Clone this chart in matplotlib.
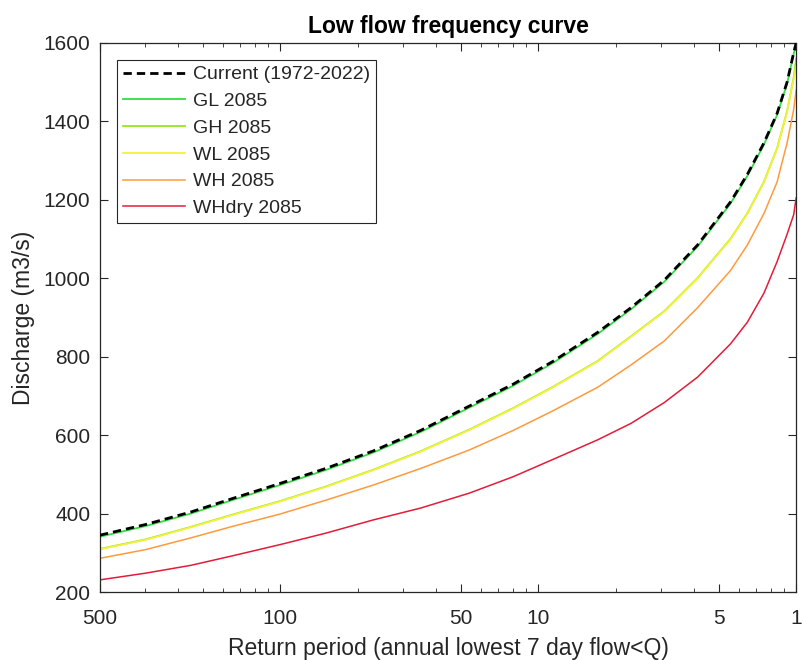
import numpy as np
import matplotlib
matplotlib.use("Agg")
import matplotlib.pyplot as plt

plt.rcParams['font.family'] = ['Liberation Sans', 'DejaVu Sans']

# non-exceedance probability (plotted on log axis)
p = [0.002, 0.003, 0.0045, 0.0065, 0.01, 0.015, 0.023, 0.035, 0.054, 0.08, 0.114,
     0.17, 0.229, 0.308, 0.415, 0.557, 0.647, 0.75, 0.843, 0.922, 0.978, 1.0]

current = [345, 372, 404, 438, 477, 515, 560, 612, 674, 730, 788,
           862, 925, 995, 1085, 1195, 1265, 1345, 1420, 1500, 1575, 1600]
gl_2085 = [341, 368, 400, 434, 473, 511, 556, 608, 670, 726, 784,
           858, 921, 991, 1081, 1191, 1261, 1341, 1416, 1496, 1572, 1598]
gh_2085 = [310, 334, 366, 397, 432, 469, 512, 559, 614, 669, 723,
           789, 852, 916, 1001, 1101, 1166, 1246, 1331, 1426, 1512, 1560]
wl_2085 = [309, 333, 365, 396, 431, 468, 511, 558, 613, 668, 722,
           788, 851, 915, 1000, 1100, 1165, 1245, 1330, 1425, 1508, 1540]
wh_2085 = [286, 308, 338, 367, 399, 434, 473, 515, 562, 612, 662,
           722, 779, 840, 925, 1020, 1085, 1165, 1245, 1345, 1430, 1480]
whdry_2085 = [231, 248, 268, 292, 321, 350, 384, 414, 452, 494, 538,
              588, 630, 683, 748, 833, 888, 962, 1042, 1112, 1162, 1205]

xtick_pos = [0.002, 0.01, 0.05, 0.1, 0.5, 1]
xtick_lab = ['500', '100', '50', '10', '5', '1']

txt = '#262626'

fig = plt.figure(figsize=(8.03, 6.60), dpi=100)
ax = fig.add_axes([0.1245, 0.103, 0.867, 0.832])

ax.plot(p, gl_2085, color='#33dd44', lw=1.3, label='GL 2085')
ax.plot(p, gh_2085, color='#99e619', lw=1.3, label='GH 2085')
ax.plot(p, wl_2085, color='#f2f23a', lw=1.3, label='WL 2085')
ax.plot(p, wh_2085, color='#ff9a3c', lw=1.1, label='WH 2085')
ax.plot(p, whdry_2085, color='#e31c3a', lw=1.1, label='WHdry 2085')
ln, = ax.plot(p, current, color='black', lw=2, dashes=(3, 1.8), label='Current (1972-2022)', zorder=5)

ax.set_xscale('log')
ax.set_xlim(0.002, 1)
ax.set_ylim(200, 1600)
ax.set_xticks(xtick_pos)
ax.set_xticklabels(xtick_lab)
ax.set_yticks(np.arange(200, 1601, 200))

ax.tick_params(which='both', direction='in', top=True, right=True, colors=txt, labelsize=15)
ax.tick_params(which='major', length=6, width=0.8)
ax.tick_params(which='minor', length=3, width=0.6)
ax.tick_params(axis='x', pad=12)
ax.tick_params(axis='y', pad=7)
for s in ax.spines.values():
    s.set_color(txt)
    s.set_linewidth(0.9)

ax.set_title('Low flow frequency curve', fontsize=16.5, fontweight='bold', color='black', pad=7)
ax.set_xlabel('Return period (annual lowest 7 day flow<Q)', fontsize=16.5, color=txt, labelpad=7)
ax.set_ylabel('Discharge (m3/s)', fontsize=16.5, color=txt, labelpad=6)

handles, labels = ax.get_legend_handles_labels()
order = [5, 0, 1, 2, 3, 4]
leg = ax.legend([handles[i] for i in order], [labels[i] for i in order],
                loc='upper left', bbox_to_anchor=(0.0243, 0.969), borderaxespad=0,
                fontsize=14, handlelength=3.2, handletextpad=0.4, labelspacing=0.47,
                borderpad=0.3, fancybox=False, framealpha=1, edgecolor=txt)
leg.get_frame().set_linewidth(0.8)
for t in leg.get_texts():
    t.set_color(txt)

fig.savefig('out.png', dpi=100)
